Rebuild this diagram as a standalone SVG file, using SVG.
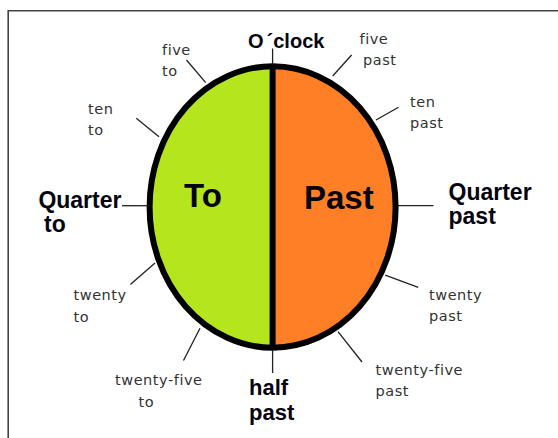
<svg xmlns="http://www.w3.org/2000/svg" width="558" height="438" viewBox="0 0 558 438">
  <style>
    .frame { fill: none; stroke: #444; stroke-width: 1.6; }
    .tick { stroke: #222; stroke-width: 1.3; fill: none; }
    .bold { font-family: "Liberation Sans", Arial, sans-serif; font-weight: bold; fill: #050510; }
    .hand { font-family: "DejaVu Sans", sans-serif; font-size: 14.5px; letter-spacing: 0.55px; fill: #333; }
  </style>

  <!-- page frame (open at the right and bottom) -->
  <path class="frame" d="M8.2 438 V10.8 H558"/>

  <!-- clock face -->
  <g id="face">
    <path id="to-half" d="M272.6 66.3 A123 140.7 0 0 0 272.6 347.7 Z" fill="#b5e61d"/>
    <path id="past-half" d="M272.6 66.3 A123 140.7 0 0 1 272.6 347.7 Z" fill="#ff7f27"/>
    <ellipse cx="272.6" cy="207" rx="123" ry="140.7" fill="none" stroke="#000" stroke-width="6"/>
    <line x1="272.6" y1="64" x2="272.6" y2="350" stroke="#000" stroke-width="6"/>
    <text class="bold" x="184" y="207" font-size="33">To</text>
    <text class="bold" x="304" y="208.5" font-size="33">Past</text>
  </g>

  <!-- tick marks linking the face to the labels -->
  <g id="ticks">
    <line class="tick" x1="272.6" y1="48.5" x2="272.6" y2="64"/>
    <line class="tick" x1="272.6" y1="350" x2="272.6" y2="373"/>
    <line class="tick" x1="122" y1="205.7" x2="147" y2="205.7"/>
    <line class="tick" x1="398" y1="205.7" x2="433.5" y2="205.7"/>
    <line class="tick" x1="186.5" y1="60" x2="205.7" y2="82.7"/>
    <line class="tick" x1="332.7" y1="76" x2="351.6" y2="55"/>
    <line class="tick" x1="136.3" y1="118.3" x2="159" y2="136.7"/>
    <line class="tick" x1="376" y1="120" x2="398.5" y2="107.3"/>
    <line class="tick" x1="155" y1="263" x2="130.4" y2="284.5"/>
    <line class="tick" x1="385.2" y1="275.2" x2="418.2" y2="287.3"/>
    <line class="tick" x1="200" y1="328.3" x2="183.5" y2="360.5"/>
    <line class="tick" x1="338" y1="331.7" x2="362" y2="362"/>
  </g>

  <g id="oclock">
    <text class="bold" x="248" y="47.5" font-size="20">O<tspan dx="3">´</tspan>clock</text>
  </g>
  <g id="quarter-to">
    <text class="bold" x="38.4" y="208" font-size="23">Quarter</text>
    <text class="bold" x="44" y="231.7" font-size="23">to</text>
  </g>
  <g id="quarter-past">
    <text class="bold" x="448.5" y="200" font-size="23">Quarter</text>
    <text class="bold" x="448.5" y="224" font-size="23">past</text>
  </g>
  <g id="half-past">
    <text class="bold" x="249" y="395" font-size="22">half</text>
    <text class="bold" x="249" y="419.5" font-size="22">past</text>
  </g>

  <g id="five-to">
    <text class="hand" x="162" y="54.5">five</text>
    <text class="hand" x="162" y="76">to</text>
  </g>
  <g id="five-past">
    <text class="hand" x="359.5" y="44">five</text>
    <text class="hand" x="363" y="64.5">past</text>
  </g>
  <g id="ten-to">
    <text class="hand" x="88" y="113.5">ten</text>
    <text class="hand" x="88" y="135">to</text>
  </g>
  <g id="ten-past">
    <text class="hand" x="410" y="106.5">ten</text>
    <text class="hand" x="410" y="128">past</text>
  </g>
  <g id="twenty-to">
    <text class="hand" x="73.5" y="300">twenty</text>
    <text class="hand" x="73.5" y="322">to</text>
  </g>
  <g id="twenty-past">
    <text class="hand" x="429" y="300">twenty</text>
    <text class="hand" x="429" y="321">past</text>
  </g>
  <g id="twenty-five-to">
    <text class="hand" x="115" y="385">twenty-five</text>
    <text class="hand" x="138.5" y="407">to</text>
  </g>
  <g id="twenty-five-past">
    <text class="hand" x="375.5" y="374.5">twenty-five</text>
    <text class="hand" x="375.5" y="396">past</text>
  </g>
</svg>
